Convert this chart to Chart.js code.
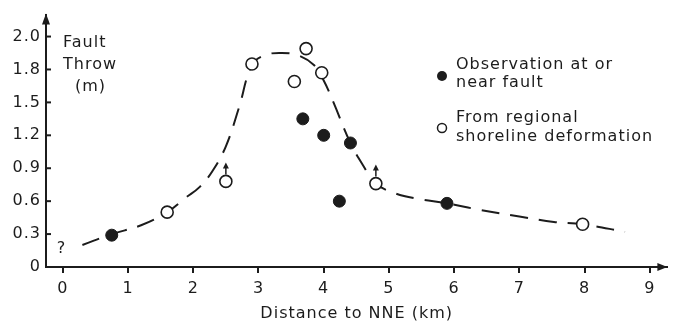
<!DOCTYPE html>
<html>
<head>
<meta charset="utf-8">
<script src="https://cdn.jsdelivr.net/npm/chart.js@4"></script>
<style>
  html, body { margin: 0; padding: 0; background: #fff; }
  #wrap { position: relative; width: 675px; height: 324px; }
</style>
</head>
<body>
<div id="wrap"><canvas id="chart" width="675" height="324"></canvas></div>
<script>
// observations at or near the fault (filled)
const faultX = [0.75, 3.68, 4.0, 4.24, 4.41, 5.89]
const faultY = [0.29, 1.35, 1.20, 0.60, 1.13, 0.58]
// from regional shoreline deformation (open)
const shoreX = [1.6, 2.5, 2.9, 3.55, 3.73, 3.97, 4.8, 7.97]
const shoreY = [0.5, 0.78, 1.85, 1.69, 1.99, 1.77, 0.76, 0.39]
const shoreLowerBound = [false, true, false, false, false, false, true, false]
// dashed trend curve
const curveX = [0.3, 0.75, 1.2, 1.6, 1.88, 2.1, 2.3, 2.5, 2.7, 2.9, 3.1, 3.35, 3.6, 3.85, 4.0, 4.15, 4.41, 4.6, 4.8, 5.1, 5.45, 5.89, 6.4, 7.0, 7.53, 7.97, 8.62]
const curveY = [0.2, 0.3, 0.38, 0.5, 0.63, 0.73, 0.88, 1.1, 1.45, 1.84, 1.93, 1.95, 1.93, 1.84, 1.7, 1.5, 1.13, 0.93, 0.76, 0.67, 0.62, 0.58, 0.52, 0.46, 0.41, 0.39, 0.32]

const xTicks = [0, 1, 2, 3, 4, 5, 6, 7, 8, 9]
const yTicks = [0, 0.3, 0.6, 0.9, 1.2, 1.5, 1.8, 2.1]
const yTickLabels = ['0', '0.3', '0.6', '0.9', '1.2', '1.5', '1.8', '2.0']

const INK = '#1c1c1c'
const FONT = '"DejaVu Sans", sans-serif'
const pts = (xs, ys) => xs.map((x, i) => ({ x, y: ys[i] }))

const decor = {
  id: 'decor',
  beforeDraw(chart) { chart.ctx.letterSpacing = '1px' },
  afterDraw(chart) {
    const { ctx, chartArea: a, scales: { x, y } } = chart
    ctx.save()
    ctx.strokeStyle = INK; ctx.fillStyle = INK; ctx.lineWidth = 2
    // y ticks pointing into the plot
    yTicks.forEach(v => {
      const py = y.getPixelForValue(v)
      ctx.beginPath(); ctx.moveTo(a.left, py); ctx.lineTo(a.left + 5, py); ctx.stroke()
    })
    // axis arrows
    ctx.beginPath(); ctx.moveTo(a.left, a.top - 1); ctx.lineTo(a.left - 4, a.top + 10); ctx.lineTo(a.left + 4, a.top + 10); ctx.closePath(); ctx.fill()
    ctx.beginPath(); ctx.moveTo(a.right, a.bottom); ctx.lineTo(a.right - 10, a.bottom - 4); ctx.lineTo(a.right - 10, a.bottom + 4); ctx.closePath(); ctx.fill()
    // lower-bound arrows above open circles
    ctx.lineWidth = 1.5
    shoreX.forEach((v, i) => {
      if (!shoreLowerBound[i]) return
      const px = x.getPixelForValue(v), py = y.getPixelForValue(shoreY[i])
      ctx.beginPath(); ctx.moveTo(px, py - 7); ctx.lineTo(px, py - 15); ctx.stroke()
      ctx.beginPath(); ctx.moveTo(px, py - 19); ctx.lineTo(px - 3, py - 13); ctx.lineTo(px + 3, py - 13); ctx.closePath(); ctx.fill()
    })
    // texts
    ctx.letterSpacing = '1px'
    ctx.font = '16px ' + FONT; ctx.textBaseline = 'middle'; ctx.textAlign = 'left'
    ctx.fillText('Fault', 63, 43)
    ctx.fillText('Throw', 63, 65)
    ctx.fillText('(m)', 75, 87)
    ctx.fillText('?', x.getPixelForValue(0) - 6, y.getPixelForValue(0.17))
    ctx.fillText('Observation at or', 456, 65)
    ctx.fillText('near fault', 456, 83)
    ctx.fillText('From regional', 456, 118)
    ctx.fillText('shoreline deformation', 456, 137)
    // legend symbols
    ctx.beginPath(); ctx.arc(442, 76, 5, 0, Math.PI * 2); ctx.fill()
    ctx.beginPath(); ctx.arc(442, 128, 4.5, 0, Math.PI * 2); ctx.fillStyle = '#fff'; ctx.fill(); ctx.stroke()
    ctx.restore()
  }
}

new Chart(document.getElementById('chart'), {
  type: 'scatter',
  data: {
    datasets: [
      { label: 'Observation at or near fault', data: pts(faultX, faultY), order: 1,
        pointRadius: 6, pointBackgroundColor: INK, pointBorderColor: INK, pointBorderWidth: 1 },
      { label: 'From regional shoreline deformation', data: pts(shoreX, shoreY), order: 1,
        pointRadius: 6, pointBackgroundColor: '#fff', pointBorderColor: INK, pointBorderWidth: 1.6 },
      { label: 'trend', type: 'line', data: pts(curveX, curveY), order: 5,
        borderColor: INK, borderWidth: 2, borderDash: [18, 11], pointRadius: 0,
        tension: 0.4, fill: false }
    ]
  },
  options: {
    responsive: false, animation: false, devicePixelRatio: 1,
    layout: { padding: { top: 12, right: 0, left: 0, bottom: 0 } },
    plugins: { legend: { display: false }, tooltip: { enabled: false } },
    scales: {
      x: {
        type: 'linear', min: -0.258, max: 9.27,
        afterBuildTicks: s => { s.ticks = xTicks.map(v => ({ value: v })) },
        afterFit: s => { s.height = 57 },
        ticks: { color: INK, font: { family: FONT, size: 16 }, padding: 6, maxRotation: 0 },
        grid: { drawOnChartArea: false, drawTicks: true, tickLength: 6, color: INK, lineWidth: 2 },
        border: { color: INK, width: 2 },
        title: { display: true, text: 'Distance to NNE (km)', color: INK, font: { family: FONT, size: 16 }, padding: { top: 2, bottom: 1 } }
      },
      y: {
        type: 'linear', min: 0, max: 2.3,
        afterBuildTicks: s => { s.ticks = yTicks.map(v => ({ value: v })) },
        afterFit: s => { s.width = 46 },
        ticks: { color: INK, font: { family: FONT, size: 16 }, padding: 5, callback: (v, i) => yTickLabels[i] },
        grid: { drawOnChartArea: false, drawTicks: false },
        border: { color: INK, width: 2 }
      }
    }
  },
  plugins: [decor]
})
</script>
</body>
</html>
